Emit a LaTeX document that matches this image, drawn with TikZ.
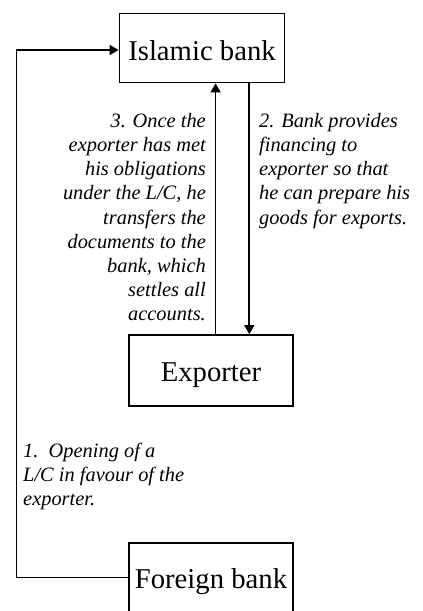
\documentclass[tikz,border=0pt]{standalone}
\usepackage{fontspec}
\setmainfont{Liberation Serif}
\usetikzlibrary{arrows.meta}

\tikzset{
  entity/.style={draw, line width=1.7pt, inner sep=0pt, text depth=0pt,
    minimum width=165pt, minimum height=70pt,
    font=\fontsize{28.7}{32}\selectfont},
  flow/.style={line width=1.7pt, -{Triangle[length=9pt,width=10pt]}},
  plain/.style={line width=1.7pt},
  note/.style={inner sep=0pt, font=\fontsize{20.4}{24.2}\selectfont\itshape}
}

\begin{document}
\begin{tikzpicture}[x=1pt,y=-1pt]
  \useasboundingbox (0,0) rectangle (423,611);
  \clip (0,0) rectangle (423,611);

  % the three parties
  \node[entity, minimum height=69pt, text height=24pt] (islamic) at (202,48) {Islamic bank};
  \node[entity, minimum width=164pt, minimum height=71pt, text height=21pt] (exporter) at (211,370.5) {Exporter};
  \node[entity, minimum width=164pt, minimum height=71pt, text height=19pt] (foreign) at (211,578.5) {Foreign bank};

  % 1. letter of credit from the foreign bank to the Islamic bank
  \coordinate (corner) at (16.5,577.5);
  \draw[plain] ([yshift=1pt]foreign.west) -- (corner);
  \draw[flow] (corner) |- ([yshift=-2pt]islamic.west);

  % 2. financing to the exporter, 3. documents back to the bank
  \coordinate (downtop) at ([xshift=38.3pt]exporter.north |- islamic.south);
  \coordinate (uptop) at ([xshift=4.6pt]exporter.north |- islamic.south);
  \draw[flow] (downtop) -- ([xshift=38.3pt]exporter.north);
  \draw[flow] ([xshift=4.6pt]exporter.north) -- (uptop);

  \node[note, align=right, anchor=north east] (step3) at (206,113)
    {3. Once the\\exporter has met\\his obligations\\under the L/C, he\\transfers the\\documents to the\\bank, which\\settles all\\accounts.};
  \node[note, align=left, anchor=north west] (step2) at (259,113)
    {2. Bank provides\\financing to\\exporter so that\\he can prepare his\\goods for exports.};
  \node[note, align=left, anchor=north west] (step1) at (23,443)
    {1.~\ Opening of a\\L/C in favour of the\\exporter.};
\end{tikzpicture}
\end{document}
